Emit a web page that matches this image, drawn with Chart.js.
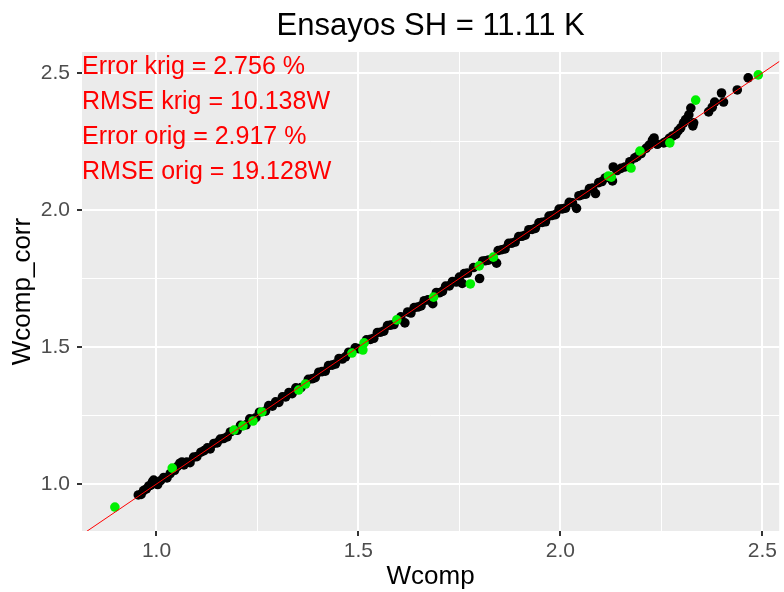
<!DOCTYPE html>
<html>
<head>
<meta charset="utf-8">
<script src="https://cdn.jsdelivr.net/npm/chart.js@4"></script>
<style>
  html, body { margin: 0; padding: 0; background: #fff; }
  #wrap { width: 784px; height: 592px; }
</style>
</head>
<body>
<div id="wrap"><canvas id="chart"></canvas></div>
<script>
// ── Datos ────
const TITULO = 'Ensayos SH = 11.11 K';
const ETIQUETAS = ['Error krig = 2.756 %', 'RMSE krig = 10.138W', 'Error orig = 2.917 %', 'RMSE orig = 19.128W'];

// puntos negros (Wcomp, Wcomp_corr)
const negroX = [0.955,0.962,0.968,0.975,0.981,0.986,0.990,0.993,0.998,1.003,1.010,1.018,1.026,1.034,1.045,1.052,1.058,1.063,1.068,1.075,
  1.083,1.092,1.100,1.110,1.118,1.126,1.133,1.142,1.150,1.158,1.166,1.175,1.183,1.200,1.208,1.222,1.231,1.246,1.255,1.270,
  1.278,1.287,1.295,1.303,1.312,1.320,1.328,1.336,1.345,1.358,1.376,1.385,1.393,1.402,1.410,1.418,1.426,1.435,1.443,1.452,
  1.460,1.468,1.476,1.492,1.500,1.520,1.530,1.538,1.547,1.555,1.563,1.572,1.580,1.588,1.605,1.615,1.622,1.630,1.638,1.647,
  1.655,1.663,1.672,1.684,1.693,1.700,1.708,1.716,1.725,1.733,1.742,1.750,1.757,1.762,1.770,1.785,1.800,1.808,1.815,1.822,
  1.842,1.846,1.855,1.863,1.872,1.880,1.888,1.897,1.905,1.913,1.922,1.930,1.938,1.947,1.955,1.963,1.972,1.980,1.988,1.997,
  2.005,2.013,2.022,2.030,2.040,2.046,2.055,2.063,2.072,2.080,2.087,2.095,2.103,2.111,2.118,2.129,2.131,2.140,2.150,2.160,
  2.172,2.184,2.190,2.200,2.212,2.220,2.228,2.232,2.240,2.256,2.262,2.270,2.278,2.286,2.292,2.298,2.305,2.310,2.318,2.323,
  2.328,2.330,2.367,2.376,2.382,2.399,2.404,2.438,2.465];
const negroY = [0.960,0.962,0.976,0.982,0.993,0.996,1.008,1.014,1.004,0.998,1.012,1.024,1.022,1.038,1.050,1.064,1.076,1.080,1.070,1.080,
  1.078,1.098,1.100,1.116,1.122,1.132,1.128,1.148,1.150,1.164,1.166,1.172,1.190,1.196,1.214,1.216,1.238,1.242,1.262,1.266,
  1.286,1.284,1.300,1.298,1.318,1.318,1.334,1.330,1.351,1.352,1.382,1.384,1.388,1.408,1.410,1.412,1.432,1.434,1.438,1.458,
  1.456,1.464,1.481,1.497,1.494,1.526,1.528,1.532,1.553,1.554,1.558,1.578,1.580,1.582,1.610,1.588,1.628,1.624,1.644,1.646,
  1.650,1.669,1.672,1.658,1.699,1.698,1.703,1.722,1.723,1.739,1.737,1.755,1.732,1.768,1.770,1.790,1.750,1.814,1.815,1.817,
  1.806,1.852,1.855,1.858,1.878,1.879,1.883,1.903,1.904,1.908,1.928,1.929,1.933,1.953,1.955,1.957,1.978,1.980,1.983,2.003,
  2.004,2.007,2.028,2.026,2.006,2.052,2.056,2.058,2.078,2.080,2.060,2.100,2.104,2.117,2.120,2.106,2.157,2.144,2.152,2.157,
  2.176,2.190,2.195,2.206,2.225,2.237,2.255,2.263,2.240,2.245,2.250,2.262,2.270,2.276,2.290,2.300,2.318,2.330,2.347,2.372,
  2.307,2.318,2.358,2.375,2.394,2.427,2.394,2.438,2.482];

// puntos verdes
const verdeX = [0.897,1.039,1.192,1.214,1.239,1.261,1.352,1.369,1.484,1.511,1.514,1.595,1.686,1.777,1.799,1.834,2.119,2.126,2.175,2.197,2.271,2.335,2.490];
const verdeY = [0.916,1.058,1.197,1.212,1.230,1.263,1.343,1.365,1.478,1.489,1.515,1.599,1.682,1.730,1.796,1.828,2.124,2.120,2.153,2.215,2.245,2.401,2.493];

// recta y = x
const rectaX = [0.80, 2.60];

// ejes
const xMin = 0.8156, xMax = 2.5418;
const yMin = 0.8285, yMax = 2.5766;
const ticksMayores = [1.0, 1.5, 2.0, 2.5];
const ticksMenores = [1.25, 1.75, 2.25];

const FUENTE = "'Liberation Sans', Arial, sans-serif";

const todosTicks = ticksMayores.concat(ticksMenores).sort((a, b) => a - b);
const esMayor = v => ticksMayores.some(t => Math.abs(t - v) < 1e-9);

// ── Plugins ────
const fondoPanel = {
  id: 'fondoPanel',
  beforeDraw(chart) {
    const { ctx, chartArea: a } = chart;
    ctx.save();
    ctx.fillStyle = '#EBEBEB';
    ctx.fillRect(a.left, a.top, a.right - a.left, a.bottom - a.top);
    ctx.restore();
  }
};

const textoRojo = {
  id: 'textoRojo',
  afterDraw(chart) {
    const { ctx, chartArea: a } = chart;
    ctx.save();
    ctx.fillStyle = '#FF0000';
    ctx.font = `25px ${FUENTE}`;
    ctx.textAlign = 'left';
    ctx.textBaseline = 'middle';
    ETIQUETAS.forEach((t, i) => ctx.fillText(t, a.left, 67 + i * 35));
    ctx.restore();
  }
};

function ejeComun(ticks) {
  return {
    type: 'linear',
    afterBuildTicks: s => { s.ticks = ticks.map(v => ({ value: v })); },
    ticks: {
      color: '#4D4D4D',
      font: { family: FUENTE, size: 21 },
      callback: v => esMayor(v) ? v.toFixed(1) : '',
      autoSkip: false,
      maxRotation: 0
    },
    grid: {
      color: '#FFFFFF',
      lineWidth: c => (c.tick && esMayor(c.tick.value)) ? 2 : 1,
      tickColor: c => (c.tick && esMayor(c.tick.value)) ? '#333333' : 'rgba(0,0,0,0)',
      tickLength: 5,
      drawOnChartArea: true
    },
    border: { display: false }
  };
}

const escalaX = ejeComun(todosTicks);
escalaX.min = xMin; escalaX.max = xMax;
escalaX.ticks.padding = 3;
escalaX.title = { display: true, text: 'Wcomp', color: '#000', font: { family: FUENTE, size: 26 }, padding: { top: 0, bottom: 0 } };
escalaX.afterFit = s => { s.height = 61; s.paddingLeft = 0; s.paddingRight = 0; };

const escalaY = ejeComun(todosTicks);
escalaY.min = yMin; escalaY.max = yMax;
escalaY.ticks.padding = 7;
escalaY.title = { display: true, text: 'Wcomp_corr', color: '#000', font: { family: FUENTE, size: 26 }, padding: { top: 7, bottom: 0 } };
escalaY.afterFit = s => { s.width = 82; s.paddingTop = 0; s.paddingBottom = 0; };

new Chart(document.getElementById('chart'), {
  data: {
    datasets: [
      {
        type: 'line',
        label: 'y = x',
        data: rectaX.map(v => ({ x: v, y: v })),
        borderColor: '#FF0000',
        borderWidth: 1,
        pointRadius: 0,
        fill: false,
        order: 0
      },
      {
        type: 'scatter',
        label: 'verde',
        data: verdeX.map((x, i) => ({ x, y: verdeY[i] })),
        backgroundColor: '#00F000',
        borderWidth: 0,
        pointRadius: 4.8,
        order: 1
      },
      {
        type: 'scatter',
        label: 'negro',
        data: negroX.map((x, i) => ({ x, y: negroY[i] })),
        backgroundColor: '#000000',
        borderWidth: 0,
        pointRadius: 4.8,
        order: 2
      }
    ]
  },
  options: {
    responsive: true,
    maintainAspectRatio: false,
    animation: false,
    layout: { padding: 0 },
    plugins: {
      legend: { display: false },
      tooltip: { enabled: false },
      title: {
        display: true,
        text: TITULO,
        color: '#000',
        fullSize: false,
        font: { family: FUENTE, size: 31, weight: 'normal', lineHeight: 1.2 },
        padding: { top: 8, bottom: 6.8 }
      }
    },
    scales: { x: escalaX, y: escalaY }
  },
  plugins: [fondoPanel, textoRojo]
});
</script>
</body>
</html>
